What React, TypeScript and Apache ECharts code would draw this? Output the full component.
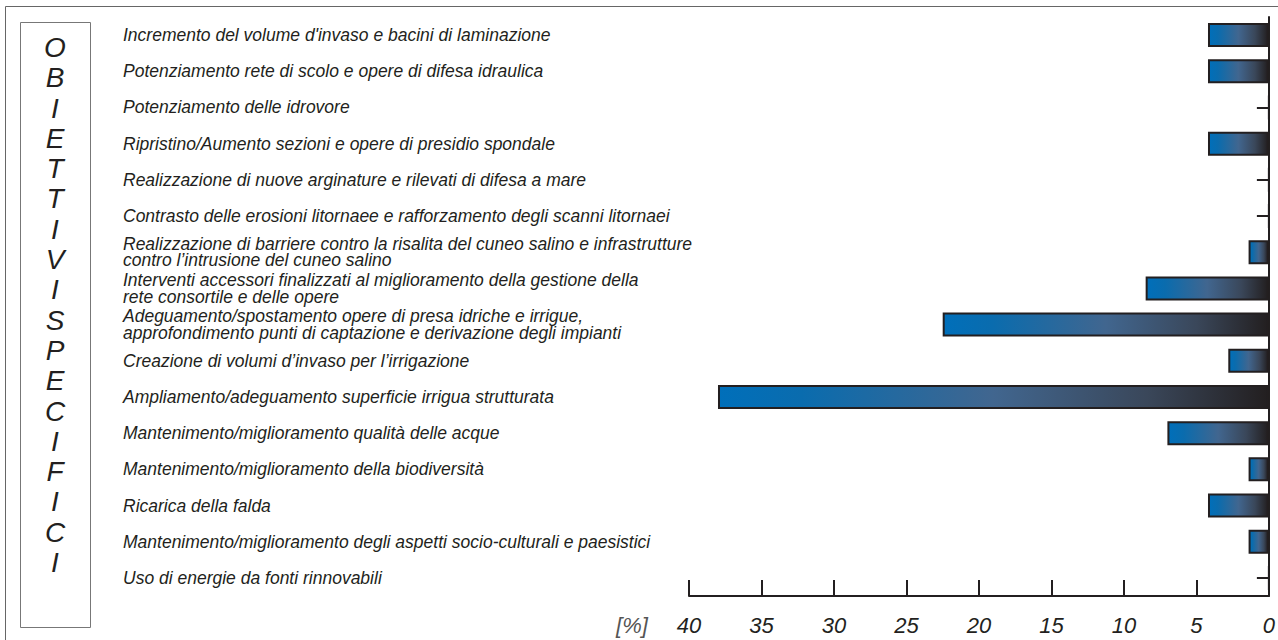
import React, { useEffect, useRef } from "react";
import * as echarts from "echarts";

const categories: string[] = [
  "Incremento del volume d'invaso e bacini di laminazione",
  "Potenziamento rete di scolo e opere di difesa idraulica",
  "Potenziamento delle idrovore",
  "Ripristino/Aumento sezioni e opere di presidio spondale",
  "Realizzazione di nuove arginature e rilevati di difesa a mare",
  "Contrasto delle erosioni litornaee e rafforzamento degli scanni litornaei",
  "Realizzazione di barriere contro la risalita del cuneo salino e infrastrutture\ncontro l’intrusione del cuneo salino",
  "Interventi accessori finalizzati al miglioramento della gestione della\nrete consortile e delle opere",
  "Adeguamento/spostamento opere di presa idriche e irrigue,\napprofondimento punti di captazione e derivazione degli impianti",
  "Creazione di volumi d’invaso per l’irrigazione",
  "Ampliamento/adeguamento superficie irrigua strutturata",
  "Mantenimento/miglioramento qualità delle acque",
  "Mantenimento/miglioramento della biodiversità",
  "Ricarica della falda",
  "Mantenimento/miglioramento degli aspetti socio-culturali e paesistici",
  "Uso di energie da fonti rinnovabili",
];

const percentValues: number[] = [4.2, 4.2, 0, 4.2, 0, 0, 1.4, 8.5, 22.5, 2.8, 38.0, 7.0, 1.4, 4.2, 1.4, 0];

const sideTitle: string[] = ["O", "B", "I", "E", "T", "T", "I", "V", "I", "S", "P", "E", "C", "I", "F", "I", "C", "I"];
const unitLabel = "[%]";

const DARK = "#231f20";
const FONT = "'Liberation Sans', Arial, sans-serif";
const NARROW = "'Liberation Sans Narrow', 'Liberation Sans', Arial, sans-serif";

export default function App() {
  const ref = useRef<HTMLDivElement>(null);
  useEffect(() => {
    if (!ref.current) return;
    const chart = echarts.init(ref.current, null, { renderer: "svg" });
    const grad = new echarts.graphic.LinearGradient(0, 0, 1, 0, [
      { offset: 0, color: "#006fba" },
      { offset: 0.15, color: "#0a6cae" },
      { offset: 0.5, color: "#41668f" },
      { offset: 0.78, color: "#3a475a" },
      { offset: 1, color: "#231f20" },
    ]);
    chart.setOption({
      animation: false,
      backgroundColor: "#ffffff",
      grid: { left: 689, right: 9, top: 17, bottom: 44, containLabel: false },
      xAxis: {
        type: "value",
        min: 0,
        max: 40,
        interval: 5,
        inverse: true,
        position: "bottom",
        splitLine: { show: false },
        axisLine: { show: true, lineStyle: { color: DARK, width: 2 } },
        axisTick: { show: true, inside: true, length: 16, lineStyle: { color: DARK, width: 2 } },
        axisLabel: {
          color: DARK,
          fontSize: 22,
          fontStyle: "italic",
          fontFamily: NARROW,
          margin: 18,
        },
      },
      yAxis: [
        {
          type: "category",
          data: categories,
          inverse: true,
          position: "right",
          axisLine: { show: true, lineStyle: { color: DARK, width: 2 } },
          axisTick: { show: true, inside: true, alignWithLabel: true, length: 12, lineStyle: { color: DARK, width: 2 } },
          axisLabel: { show: false },
          splitLine: { show: false },
        },
        {
          type: "category",
          data: categories,
          inverse: true,
          position: "left",
          axisLine: { show: false },
          axisTick: { show: false },
          splitLine: { show: false },
          axisLabel: {
            show: true,
            align: "left",
            margin: 566,
            color: DARK,
            fontSize: 17.5,
            lineHeight: 16.5,
            fontStyle: "italic",
            fontFamily: FONT,
          },
        },
      ],
      series: [
        {
          type: "bar",
          yAxisIndex: 0,
          data: percentValues,
          barWidth: 24,
          itemStyle: { color: grad, borderColor: DARK, borderWidth: 2 },
          silent: true,
        },
      ],
      graphic: [
        {
          type: "rect",
          shape: { x: 5.5, y: 6.5, width: 1300, height: 700 },
          style: { fill: "none", stroke: "#666", lineWidth: 1 },
          silent: true,
        },
        {
          type: "rect",
          shape: { x: 20.5, y: 22.5, width: 70, height: 605 },
          style: { fill: "none", stroke: "#777", lineWidth: 1 },
          silent: true,
        },
        {
          type: "text",
          x: 55,
          y: 305,
          style: {
            text: sideTitle.join("\n"),
            fontSize: 28,
            lineHeight: 30.3,
            fontStyle: "italic",
            fontFamily: FONT,
            fill: DARK,
            align: "center",
            verticalAlign: "middle",
          },
          silent: true,
        },
        {
          type: "text",
          x: 632,
          y: 625,
          style: {
            text: unitLabel,
            fontSize: 22,
            fontStyle: "italic",
            fontFamily: NARROW,
            fill: "#555",
            align: "center",
            verticalAlign: "middle",
          },
          silent: true,
        },
      ],
    });
    return () => chart.dispose();
  }, []);
  return (
    <div
      ref={ref}
      style={{ position: "fixed", left: 0, top: 0, width: 1278, height: 640, background: "#fff" }}
    />
  );
}
